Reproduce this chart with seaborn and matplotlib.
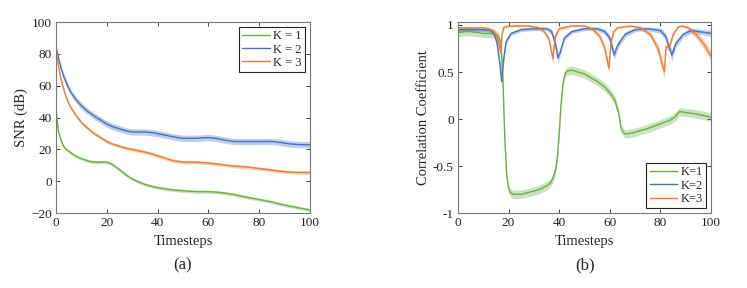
import numpy as np
import pandas as pd
import matplotlib
matplotlib.use("Agg")
import matplotlib.pyplot as plt
import seaborn as sns

# ---- data: (a) SNR vs timesteps ----
snr1_t = [0, 0.5, 1, 2, 3, 4, 5, 7, 10, 13, 15, 17, 19, 20, 21, 22, 24, 26, 28, 30, 32, 35,
          38, 40, 45, 50, 55, 60, 63, 66, 70, 75, 80, 85, 90, 95, 100]
snr1 = [45, 37, 31, 25.5, 22, 20, 19, 16.5, 14.2, 12.6, 12.1, 12, 12.2, 12, 11.5, 10.7, 8.5,
        6, 3.5, 1.5, 0, -2, -3.3, -4, -5.2, -6, -6.5, -6.5, -6.8, -7.3, -8.3, -10, -11.5, -13,
        -15, -16.5, -18]
snr2_t = [0, 1, 2, 3, 4, 5, 6, 8, 10, 12, 15, 18, 20, 22, 25, 28, 30, 35, 38, 40, 43, 46, 50,
          55, 60, 63, 66, 70, 75, 80, 85, 88, 92, 96, 100]
snr2 = [84, 77, 71, 66, 62, 58.5, 55.5, 51, 47.5, 44.5, 41, 38, 36, 34.5, 33, 31.5, 31, 31,
        30.5, 30, 29, 28, 27, 27, 27.5, 27, 26, 25, 25, 25, 25, 24.5, 23.5, 23, 23]
snr3_t = [0, 1, 2, 3, 4, 5, 6, 8, 10, 12, 15, 18, 20, 22, 25, 28, 30, 33, 36, 40, 43, 46, 50,
          55, 60, 65, 70, 75, 80, 85, 90, 95, 100]
snr3 = [84, 72, 64, 58, 53, 49, 46, 41, 37, 34, 30, 27, 25, 23.5, 22, 20.7, 20, 19, 18, 16,
        14.5, 13, 12, 12, 11.5, 10.5, 9.5, 9, 8, 7, 6, 5.5, 5.5]
snr_band = [1.0, 2.0, 1.1]

# ---- data: (b) correlation coefficient vs timesteps ----
cc1_t = [0, 3, 5, 8, 10, 13, 15, 16, 17, 17.8, 18.5, 19.3, 20, 21, 22, 25, 28, 32, 35, 36.5,
         37.5, 38.5, 39.3, 40, 40.7, 41.5, 42.3, 43, 45, 50, 55, 58, 60, 62, 63.5, 64.5, 66,
         70, 75, 80, 84, 86, 87.5, 90, 95, 100]
cc1 = [0.92, 0.93, 0.93, 0.92, 0.91, 0.91, 0.90, 0.88, 0.80, 0.4, -0.2, -0.6, -0.74, -0.79, -0.80,
       -0.80, -0.78, -0.75, -0.71, -0.68, -0.63, -0.55, -0.40, -0.15, 0.15, 0.38, 0.48, 0.51, 0.52, 0.48,
       0.40, 0.34, 0.28, 0.20, 0.06, -0.11, -0.16, -0.14, -0.10, -0.05, -0.01, 0.03, 0.08, 0.07, 0.05,
       0.02]
cc1_band = 0.045

cc2_t = [0, 5, 10, 13, 14.5, 15.5, 16.5, 17.3, 18, 19, 21, 25, 30, 35, 37, 38.5, 39.5, 40.5, 42,
         45, 50, 55, 58, 60, 61.7, 63, 66, 70, 75, 80, 82, 83.5, 84.5, 86, 89, 92, 95, 100]
cc2 = [0.95, 0.95, 0.95, 0.94, 0.90, 0.80, 0.60, 0.40, 0.62, 0.82, 0.91, 0.95, 0.96, 0.96, 0.93,
       0.80, 0.65, 0.72, 0.86, 0.93, 0.96, 0.96, 0.93, 0.86, 0.68, 0.78, 0.90, 0.95, 0.96, 0.94,
       0.88, 0.76, 0.68, 0.80, 0.90, 0.94, 0.93, 0.91]
cc2_band = [0.02, 0.02, 0.02, 0.02, 0.03, 0.04, 0.05, 0.06, 0.04, 0.03, 0.02, 0.02, 0.02, 0.02, 0.03,
            0.04, 0.05, 0.04, 0.03, 0.02, 0.02, 0.02, 0.03, 0.04, 0.05, 0.04, 0.03, 0.02, 0.02, 0.03,
            0.04, 0.05, 0.06, 0.04, 0.03, 0.03, 0.03, 0.03]

cc3_t = [0, 5, 10, 12, 14, 15, 16, 17, 17.4, 18, 20, 25, 28, 32, 34, 36, 37.5, 38.5, 40, 45, 50,
         53, 56, 58, 59.6, 60.5, 61.5, 63, 68, 72, 76, 79, 81.5, 82.2, 83.5, 85, 87, 88.5, 91, 94,
         97, 100]
cc3 = [0.97, 0.97, 0.97, 0.96, 0.94, 0.90, 0.82, 0.70, 0.90, 0.97, 0.99, 0.99, 0.99, 0.97, 0.93, 0.85,
       0.64, 0.88, 0.96, 0.99, 0.99, 0.96, 0.88, 0.75, 0.54, 0.82, 0.93, 0.97, 0.99, 0.97, 0.90, 0.75,
       0.50, 0.77, 0.76, 0.90, 0.98, 0.99, 0.97, 0.90, 0.80, 0.67]
cc3_band = [0.015, 0.015, 0.015, 0.02, 0.02, 0.03, 0.04, 0.05, 0.03, 0.02, 0.01, 0.01, 0.01, 0.015,
            0.02, 0.03, 0.05, 0.03, 0.02, 0.01, 0.01, 0.02, 0.03, 0.04, 0.06, 0.03, 0.02, 0.01, 0.01,
            0.02, 0.03, 0.05, 0.07, 0.04, 0.03, 0.02, 0.01, 0.01, 0.02, 0.04, 0.05, 0.06]

colors = ["#6fae45", "#4472c4", "#ed7d31"]

sns.set_theme(style="ticks")
plt.rcParams["font.family"] = ["Liberation Serif", "DejaVu Serif"]
plt.rcParams["font.size"] = 9
plt.rcParams["axes.edgecolor"] = "#555555"
plt.rcParams["axes.linewidth"] = 0.8

fig = plt.figure(figsize=(7.47, 2.88), dpi=100)
ax1 = fig.add_axes([0.075, 0.26, 0.340, 0.663])
ax2 = fig.add_axes([0.613, 0.26, 0.339, 0.663])


def draw(ax, t, y, band, color, label, lw=1.0):
    t = np.asarray(t, float)
    y = np.asarray(y, float)
    b = np.broadcast_to(np.asarray(band, float), y.shape)
    ax.fill_between(t, y - b, y + b, color=color, alpha=0.35, linewidth=0)
    df = pd.DataFrame({"t": t, "v": y})
    sns.lineplot(data=df, x="t", y="v", ax=ax, color=color, linewidth=lw, label=label)


draw(ax1, snr1_t, snr1, snr_band[0], colors[0], "K = 1")
draw(ax1, snr2_t, snr2, snr_band[1], colors[1], "K = 2")
draw(ax1, snr3_t, snr3, snr_band[2], colors[2], "K = 3")

draw(ax2, cc1_t, cc1, cc1_band, colors[0], "K=1")
draw(ax2, cc2_t, cc2, cc2_band, colors[1], "K=2")
draw(ax2, cc3_t, cc3, cc3_band, colors[2], "K=3")

ax1.set_xlim(0, 100)
ax1.set_ylim(-20, 100)
ax1.set_yticks([-20, 0, 20, 40, 60, 80, 100])
ax1.set_xticks([0, 20, 40, 60, 80, 100])
ax1.set_ylabel("SNR (dB)", fontsize=10.5, labelpad=2)

ax2.set_xlim(0, 100)
ax2.set_ylim(-1, 1.03)
ax2.set_yticks([-1, -0.5, 0, 0.5, 1])
ax2.set_yticklabels(["-1", "-0.5", "0", "0.5", "1"])
ax2.set_xticks([0, 20, 40, 60, 80, 100])
ax2.set_ylabel("Correlation Coefficient", fontsize=10.5, labelpad=2)

for ax in (ax1, ax2):
    ax.set_xlabel("Timesteps", fontsize=10.5, labelpad=4)
    ax.tick_params(direction="in", length=3, width=0.6, top=True, right=True,
                   labelsize=9.5, pad=3, colors="#222222")
    for s in ax.spines.values():
        s.set_visible(True)
        s.set_color("#777777")

leg_kw = dict(fontsize=9, frameon=True, fancybox=False, handlelength=2.2,
              handletextpad=0.3, borderpad=0.25, labelspacing=0.1, borderaxespad=0.4)
leg1 = ax1.legend(loc="upper right", **leg_kw)
leg2 = ax2.legend(loc="lower right", **leg_kw)
for leg in (leg1, leg2):
    leg.get_frame().set_edgecolor("#222222")
    leg.get_frame().set_linewidth(0.8)
    leg.get_frame().set_alpha(1)

fig.text(0.245, 0.065, "(a)", ha="center", fontsize=12)
fig.text(0.783, 0.065, "(b)", ha="center", fontsize=12)

fig.savefig("out.png", dpi=100)
